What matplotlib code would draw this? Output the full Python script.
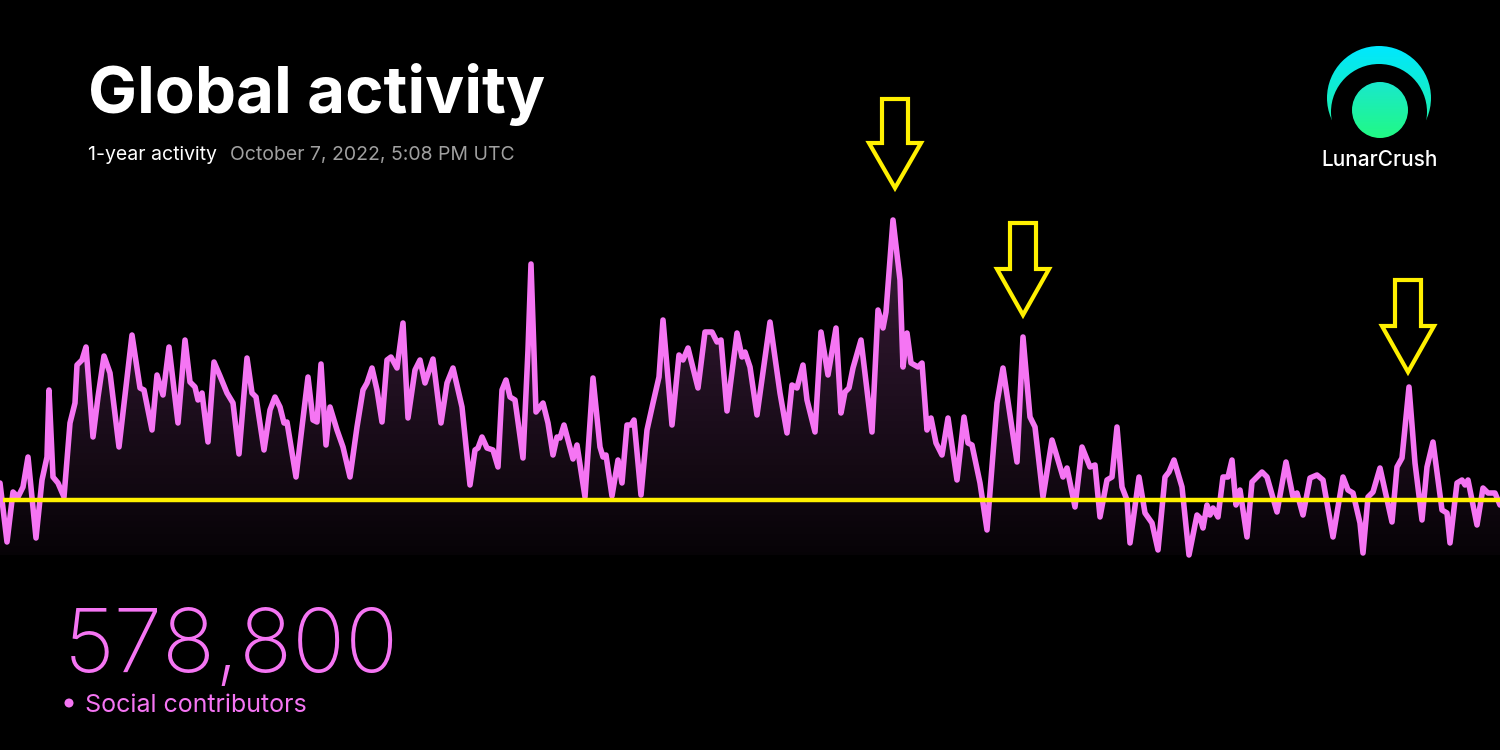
import matplotlib.pyplot as plt
import numpy as np
from matplotlib.patches import Polygon, Circle

# activity samples across the year (1500 steps), value = relative activity
sample = [0, 7, 13, 18, 23, 28, 36, 42, 47, 49, 53, 58, 64, 70, 75, 77, 82, 86, 93, 98,
          104, 110, 119, 132, 140, 144, 152, 157, 163, 169, 178, 185, 190, 195, 198, 202,
          208, 214, 220, 227, 233, 239, 247, 252, 256, 264, 270, 275, 280, 284, 287, 296,
          308, 313, 317, 321, 326, 330, 337, 343, 350, 357, 363, 367, 372, 377, 382, 387,
          391, 397, 403, 408, 415, 420, 425, 433, 441, 447, 453, 462, 470, 475, 478, 482,
          487, 493, 498, 502, 506, 510, 515, 523, 528, 531, 536, 543, 548, 553, 557, 560,
          564, 573, 577, 585, 593,
          600, 603, 606, 612, 618, 622, 627, 631, 634, 641, 647, 653, 659, 663, 672, 679,
          683, 688, 698, 705, 712, 717, 721, 727, 737, 742, 745, 750, 757, 770, 780, 787,
          792, 797, 803, 807, 815, 821, 828, 836, 841, 845, 849, 853, 861, 872, 878, 883,
          886, 893,
          900, 903, 907, 911, 918, 922, 927, 931, 936, 942, 948, 957, 964, 968, 972, 980,
          987, 997, 1003, 1017, 1023, 1030, 1035, 1043, 1052, 1063, 1067, 1075, 1082, 1090,
          1095, 1100, 1107, 1112, 1117, 1122, 1127, 1130, 1139, 1145, 1152, 1158, 1165, 1169,
          1174, 1182, 1189, 1197,
          1200, 1203, 1207, 1210, 1213, 1218, 1223, 1228, 1232, 1236, 1240, 1247, 1252, 1262,
          1267, 1277, 1286, 1293, 1297, 1303, 1310, 1317, 1323, 1333, 1343, 1348, 1353, 1360,
          1363, 1368, 1373, 1380, 1392, 1397, 1402, 1409, 1415, 1422, 1427, 1433, 1442, 1447,
          1450, 1457, 1462, 1465, 1468, 1477, 1483, 1488, 1495, 1500]
activity = [72, 13, 63, 58, 68, 98, 17, 75, 98, 165, 78, 72, 58, 132, 152, 190, 195, 208, 118, 158,
            199, 182, 108, 220, 167, 165, 125, 180, 160, 208, 132, 215, 173, 168, 155, 162,
            113, 193, 179, 162, 152, 101, 197, 162, 158, 105, 145, 158, 148, 132, 133, 78,
            178, 135, 133, 191, 110, 148, 125, 108, 78, 128, 165, 172, 187, 165, 133, 195,
            198, 187, 232, 137, 185, 195, 172, 196, 132, 172, 187, 148, 70, 105, 107, 118,
            107, 105, 88, 165, 175, 158, 155, 97, 205, 291, 143, 152, 132, 100, 118, 117,
            130, 96, 110, 58, 177,
            108, 98, 100, 59, 95, 72, 130, 130, 135, 60, 125, 152, 178, 235, 130, 200,
            195, 207, 167, 223, 223, 213, 215, 144, 222, 198, 203, 188, 140, 233, 162, 122,
            170, 167, 190, 155, 123, 223, 180, 227, 142, 163, 167, 187, 215, 123, 245, 227,
            243, 335,
            275, 188, 222, 192, 188, 192, 125, 137, 112, 100, 137, 75, 138, 112, 110, 72,
            25, 152, 187, 93, 218, 138, 128, 58, 115, 78, 87, 48, 108, 88,
            90, 38, 75, 78, 128, 68, 55, 12, 78, 42, 32, 5, 78, 83,
            95, 68, 0, 40,
            37, 27, 50, 40, 47, 38, 78, 78, 95, 50, 65, 18, 73, 83,
            78, 43, 93, 58, 62, 40, 77, 80, 75, 18, 78, 65, 62, 32,
            2, 58, 63, 87, 33, 88, 97, 168, 92, 35, 88, 113, 45, 42,
            12, 72, 75, 70, 75, 30, 67, 62, 62, 50]
baseline_level = 55
contributors = "578,800"

PINK = "#f575f3"
YELLOW = "#fff000"

fig = plt.figure(figsize=(15, 7.5), dpi=100, facecolor="black")

# chart axes
ax = fig.add_axes([0, (750 - 555) / 750, 1, 355 / 750])
ax.set_facecolor("none")
ax.set_xlim(0, 1500)
ax.set_ylim(0, 355)
ax.axis("off")

x = np.array(sample, dtype=float)
y = np.array(activity, dtype=float)

fill = ax.fill_between(x, y, 0, color="none", lw=0)
grad = np.linspace(0, 1, 256)
rgba = np.zeros((256, 1, 4))
rgba[..., 0] = 0.96
rgba[..., 1] = 0.46
rgba[..., 2] = 0.95
rgba[:, 0, 3] = 0.03 + 0.21 * grad
img = ax.imshow(rgba, extent=(0, 1500, 0, 335), origin="lower", aspect="auto", zorder=1)
img.set_clip_path(fill.get_paths()[0], transform=ax.transData)

ax.plot(x, y, color=PINK, lw=4.0, solid_joinstyle="round", solid_capstyle="round",
        zorder=3, clip_on=False)
ax.plot([3, 1500], [baseline_level, baseline_level], color=YELLOW, lw=3.2, zorder=4,
        solid_capstyle="butt")

# overlay in pixel coordinates for annotations and logo
ov = fig.add_axes([0, 0, 1, 1])
ov.set_facecolor("none")
ov.set_xlim(0, 1500)
ov.set_ylim(750, 0)
ov.axis("off")


def arrow(cx, top, neck, tip, shaft=13, wing=26):
    pts = [(cx - shaft, top), (cx + shaft, top), (cx + shaft, neck), (cx + wing, neck),
           (cx, tip), (cx - wing, neck), (cx - shaft, neck)]
    ov.add_patch(Polygon(pts, closed=True, fill=False, ec=YELLOW, lw=3.0, joinstyle="miter"))


arrow(895, 99, 143, 188)
arrow(1023, 223, 269, 315)
arrow(1408, 280, 326, 372)

# logo
g = np.linspace(0, 1, 64)
outer = Circle((1379, 98), 52, transform=ov.transData)
cres = np.zeros((64, 1, 4))
cres[:, 0, 0] = 0.0 + 0.12 * g
cres[:, 0, 1] = 0.91 + 0.03 * g
cres[:, 0, 2] = 1.0 - 0.35 * g
cres[:, 0, 3] = 1
im1 = ov.imshow(cres, extent=(1326, 1432, 128, 46), aspect="auto", zorder=5)
im1.set_clip_path(outer)
ov.add_patch(Circle((1379, 112), 48, fc="black", ec="none", zorder=6))
ov.add_patch(Polygon([(1320, 126), (1440, 126), (1440, 150), (1320, 150)], fc="black",
                     ec="none", zorder=6))
dot = Circle((1380, 110), 28, transform=ov.transData)
disc = np.zeros((64, 1, 4))
disc[:, 0, 0] = 0.10 + 0.03 * g
disc[:, 0, 1] = 0.91 + 0.07 * g
disc[:, 0, 2] = 0.80 - 0.28 * g
disc[:, 0, 3] = 1
im2 = ov.imshow(disc, extent=(1352, 1408, 138, 82), aspect="auto", zorder=7)
im2.set_clip_path(dot)
ov.text(1380, 160, "LunarCrush", color="white", fontsize=15, family="Inter",
        fontweight="medium", ha="center", va="center", zorder=8)

# texts
ov.text(88, 113, "Global activity", color="white", fontsize=47, family="Inter",
        fontweight="bold", va="baseline")
ov.text(88, 160, "1-year activity", color="white", fontsize=14, family="Inter",
        va="baseline")
ov.text(230, 160, "October 7, 2022, 5:08 PM UTC", color="#a0a0a0", fontsize=14,
        family="Inter", va="baseline")
ov.text(64, 672, contributors, color=PINK, fontsize=63, family="Inter",
        fontweight="light", va="baseline")
ov.add_patch(Circle((69, 703), 4.5, fc=PINK, ec="none"))
ov.text(85, 712, "Social contributors", color=PINK, fontsize=18, family="Inter",
        va="baseline")

fig.savefig("out.png", dpi=100, facecolor="black")
